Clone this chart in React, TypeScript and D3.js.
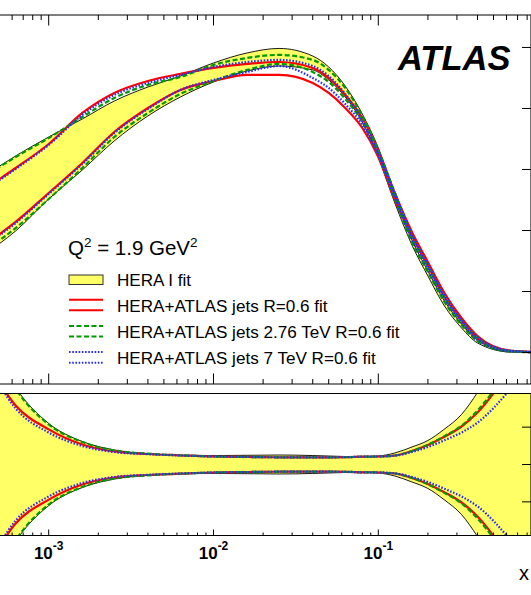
import React from "react";
import * as d3 from "d3";

// ---- data -------------------------------------------------------------
// x grid (Bjorken x)
const xGrid = [
  0.0004, 0.00063, 0.001, 0.0016, 0.0025, 0.004, 0.0063, 0.01, 0.016, 0.025,
  0.04, 0.05, 0.063, 0.08, 0.1, 0.126, 0.16, 0.2, 0.25, 0.32, 0.4, 0.63, 1.0,
];

// upper / lower edges of each uncertainty band, xg(x, Q^2 = 1.9 GeV^2)
const heraUp = [1.439, 1.611, 1.766, 1.914, 2.061, 2.176, 2.266, 2.373, 2.455, 2.492, 2.43, 2.34, 2.184, 1.955, 1.676, 1.283, 0.922, 0.668, 0.43, 0.234, 0.102, 0.008, 0.001];
const heraLo = [0.799, 0.996, 1.258, 1.496, 1.734, 1.939, 2.094, 2.217, 2.307, 2.348, 2.316, 2.234, 2.094, 1.889, 1.602, 1.225, 0.881, 0.627, 0.389, 0.201, 0.078, 0.004, 0.0];
const redUp = [1.332, 1.512, 1.709, 1.963, 2.127, 2.225, 2.283, 2.332, 2.365, 2.381, 2.332, 2.25, 2.111, 1.922, 1.66, 1.307, 0.988, 0.742, 0.496, 0.283, 0.135, 0.016, 0.002];
const redLo = [0.873, 1.07, 1.307, 1.553, 1.807, 2.004, 2.152, 2.225, 2.275, 2.275, 2.209, 2.127, 2.004, 1.84, 1.602, 1.25, 0.955, 0.709, 0.463, 0.258, 0.115, 0.012, 0.001];
const greenUp = [1.439, 1.602, 1.758, 1.93, 2.086, 2.193, 2.258, 2.357, 2.414, 2.439, 2.398, 2.316, 2.168, 1.939, 1.66, 1.307, 0.947, 0.701, 0.455, 0.258, 0.119, 0.012, 0.001];
const greenLo = [0.824, 1.02, 1.258, 1.512, 1.766, 1.963, 2.119, 2.225, 2.316, 2.365, 2.299, 2.217, 2.078, 1.889, 1.619, 1.258, 0.906, 0.66, 0.422, 0.225, 0.094, 0.008, 0.001];
const blueUp = [1.324, 1.504, 1.701, 1.947, 2.111, 2.209, 2.275, 2.34, 2.381, 2.398, 2.348, 2.266, 2.119, 1.898, 1.635, 1.307, 0.971, 0.725, 0.48, 0.275, 0.127, 0.016, 0.002];
const blueLo = [0.865, 1.061, 1.299, 1.545, 1.799, 1.996, 2.152, 2.234, 2.299, 2.348, 2.25, 2.168, 2.037, 1.865, 1.619, 1.266, 0.93, 0.684, 0.447, 0.242, 0.102, 0.011, 0.001];

// relative half-width of each band (ratio panel, symmetric about 1)
const heraRel = [0.375, 0.206, 0.11, 0.0615, 0.039, 0.029, 0.0246, 0.024, 0.0246, 0.0254, 0.024, 0.0227, 0.0214, 0.0209, 0.0227, 0.0308, 0.0468, 0.0642, 0.0937, 0.134, 0.193, 0.348, 0.535];
const redRel = [0.294, 0.158, 0.094, 0.0535, 0.0348, 0.0281, 0.0246, 0.0214, 0.0201, 0.0193, 0.0193, 0.0193, 0.0195, 0.0209, 0.0214, 0.0241, 0.0361, 0.0522, 0.0736, 0.1017, 0.139, 0.254, 0.401];
const greenRel = [0.375, 0.203, 0.107, 0.0602, 0.0375, 0.0289, 0.0246, 0.0214, 0.0201, 0.0193, 0.0193, 0.0193, 0.0195, 0.0209, 0.0214, 0.0241, 0.0361, 0.053, 0.075, 0.104, 0.1445, 0.262, 0.415];
const blueRel = [0.294, 0.15, 0.0856, 0.0495, 0.0334, 0.0276, 0.0241, 0.0214, 0.0201, 0.0193, 0.0193, 0.0193, 0.0195, 0.0209, 0.0214, 0.0235, 0.0334, 0.0468, 0.0642, 0.0856, 0.112, 0.201, 0.321];

const xMajorTicks = [0.001, 0.01, 0.1];
const xMajorExp = ["-3", "-2", "-1"];
const topYTicks = [0, 0.5, 1, 1.5, 2, 2.5];
const ratioTicks = [0.9, 1.0, 1.1];
const legendLabels = [
  "HERA I fit",
  "HERA+ATLAS jets R=0.6 fit",
  "HERA+ATLAS jets 2.76 TeV R=0.6 fit",
  "HERA+ATLAS jets 7 TeV R=0.6 fit",
];

// ---- layout ------------------------------------------------------------
const W = 531;
const H = 595;
const FRAME_R = 531;
const TOP_T = 15;
const TOP_B = 384;
const BOT_T = 393.5;
const BOT_B = 535.5;

const YELLOW = "#ffff66";
const RED = "#ff0000";
const GREEN = "#009900";
const BLUE = "#2b2bff";
const FONT = "'Liberation Sans', Arial, Helvetica, sans-serif";

const x = d3.scaleLog().domain([1e-4, 1]).range([48.7 - 164.8, 48.7 + 3 * 164.8]);
const yTop = d3.scaleLinear().domain([-0.258, 2.766]).range([TOP_B, TOP_T]);
const yBot = d3.scaleLinear().domain([0.81, 1.19]).range([BOT_B, BOT_T]);

type Pt = [number, number];
const zipPts = (ys: number[]): Pt[] => xGrid.map((xv, i) => [xv, ys[i]] as Pt);

const topLine = d3
  .line<Pt>()
  .x((d) => x(d[0]))
  .y((d) => yTop(d[1]))
  .curve(d3.curveMonotoneX);

const topArea = d3
  .area<number>()
  .x((_, i) => x(xGrid[i]))
  .y0((_, i) => yTop(heraLo[i]))
  .y1((_, i) => yTop(heraUp[i]))
  .curve(d3.curveMonotoneX);

const botLine = d3
  .line<Pt>()
  .x((d) => x(d[0]))
  .y((d) => yBot(d[1]))
  .curve(d3.curveMonotoneX);

const ratioPts = (rel: number[], sign: number): Pt[] =>
  xGrid.map((xv, i) => [xv, 1 + sign * rel[i]] as Pt);

const botArea = d3
  .area<number>()
  .x((_, i) => x(xGrid[i]))
  .y0((_, i) => yBot(1 - heraRel[i]))
  .y1((_, i) => yBot(1 + heraRel[i]))
  .curve(d3.curveMonotoneX);

// minor ticks for the log axis
const minorTicks: number[] = [];
for (let e = -4; e < 0; e++) {
  for (let k = 2; k <= 9; k++) minorTicks.push(k * Math.pow(10, e));
}

const lineStyles = [
  { color: RED, dash: undefined as string | undefined },
  { color: GREEN, dash: "5,2.5" },
  { color: BLUE, dash: "1.6,1.6" },
];

export default function App() {
  const topSeries = [
    { up: redUp, lo: redLo, ...lineStyles[0] },
    { up: greenUp, lo: greenLo, ...lineStyles[1] },
    { up: blueUp, lo: blueLo, ...lineStyles[2] },
  ];
  const botSeries = [
    { rel: redRel, ...lineStyles[0] },
    { rel: greenRel, ...lineStyles[1] },
    { rel: blueRel, ...lineStyles[2] },
  ];

  const xTicksAll = [
    ...xMajorTicks.map((v) => ({ v, major: true })),
    ...minorTicks.map((v) => ({ v, major: false })),
  ];
  const idx = xGrid.map((_, i) => i);

  return (
    <svg
      width={W}
      height={H}
      style={{ position: "absolute", left: 0, top: 0, background: "#fff" }}
      fontFamily={FONT}
    >
      <defs>
        <clipPath id="clipTop">
          <rect x={-200} y={TOP_T} width={FRAME_R + 200} height={TOP_B - TOP_T} />
        </clipPath>
        <clipPath id="clipBot">
          <rect x={-200} y={BOT_T} width={FRAME_R + 200} height={BOT_B - BOT_T} />
        </clipPath>
      </defs>

      {/* ---------- upper panel ---------- */}
      <g clipPath="url(#clipTop)">
        <path d={topArea(idx) || ""} fill={YELLOW} stroke="none" />
        <path d={topLine(zipPts(heraUp)) || ""} fill="none" stroke="#000" strokeWidth={0.9} />
        <path d={topLine(zipPts(heraLo)) || ""} fill="none" stroke="#000" strokeWidth={0.9} />
        {topSeries.map((s, k) => (
          <g key={k}>
            <path d={topLine(zipPts(s.up)) || ""} fill="none" stroke={s.color} strokeWidth={2.2} strokeDasharray={s.dash} />
            <path d={topLine(zipPts(s.lo)) || ""} fill="none" stroke={s.color} strokeWidth={2.2} strokeDasharray={s.dash} />
          </g>
        ))}
      </g>

      {/* ---------- lower (ratio) panel ---------- */}
      <g clipPath="url(#clipBot)">
        <path d={botArea(idx) || ""} fill={YELLOW} stroke="none" />
        <path d={botLine(ratioPts(heraRel, 1)) || ""} fill="none" stroke="#000" strokeWidth={0.9} />
        <path d={botLine(ratioPts(heraRel, -1)) || ""} fill="none" stroke="#000" strokeWidth={0.9} />
        {botSeries.map((s, k) => (
          <g key={k}>
            <path d={botLine(ratioPts(s.rel, 1)) || ""} fill="none" stroke={s.color} strokeWidth={2.2} strokeDasharray={s.dash} />
            <path d={botLine(ratioPts(s.rel, -1)) || ""} fill="none" stroke={s.color} strokeWidth={2.2} strokeDasharray={s.dash} />
          </g>
        ))}
      </g>

      {/* ---------- frames ---------- */}
      <g stroke="#000" strokeWidth={1.1} fill="none">
        <line x1={0} x2={FRAME_R} y1={TOP_T} y2={TOP_T} />
        <line x1={0} x2={FRAME_R} y1={TOP_B} y2={TOP_B} />
        <line x1={FRAME_R} x2={FRAME_R} y1={TOP_T} y2={TOP_B} />
        <line x1={0} x2={FRAME_R} y1={BOT_T} y2={BOT_T} />
        <line x1={0} x2={FRAME_R} y1={BOT_B} y2={BOT_B} />
        <line x1={FRAME_R} x2={FRAME_R} y1={BOT_T} y2={BOT_B} />
      </g>

      {/* x ticks */}
      <g stroke="#000" strokeWidth={1}>
        {xTicksAll.map((t, i) => {
          const px = x(t.v);
          if (px < 0 || px > FRAME_R) return null;
          const lT = t.major ? 10.5 : 5;
          const lB = t.major ? 6 : 3;
          return (
            <g key={i}>
              <line x1={px} x2={px} y1={TOP_T} y2={TOP_T + lT} />
              <line x1={px} x2={px} y1={TOP_B} y2={TOP_B - lT} />
              <line x1={px} x2={px} y1={BOT_B} y2={BOT_B - lB} />
            </g>
          );
        })}
      </g>

      {/* y ticks on the right side */}
      <g stroke="#000" strokeWidth={1}>
        {topYTicks.map((v) => (
          <line key={v} x1={FRAME_R} x2={FRAME_R - 9} y1={yTop(v)} y2={yTop(v)} />
        ))}
        {ratioTicks.map((v) => (
          <line key={v} x1={FRAME_R} x2={FRAME_R - 9} y1={yBot(v)} y2={yBot(v)} />
        ))}
      </g>

      {/* x tick labels */}
      {xMajorTicks.map((v, i) => (
        <text key={v} x={x(v)} y={559} textAnchor="middle" fontSize={17} fontWeight="bold" fill="#000">
          <tspan>10</tspan>
          <tspan dy={-9} fontSize={12}>
            {xMajorExp[i]}
          </tspan>
        </text>
      ))}
      <text x={519} y={580} fontSize={20} fill="#000">
        x
      </text>

      {/* ATLAS label */}
      <text x={398} y={70} fontSize={34.5} fontWeight="bold" fontStyle="italic" fill="#000">
        ATLAS
      </text>

      {/* Q^2 label */}
      <text x={68} y={254.5} fontSize={20.5} fill="#000">
        <tspan>Q</tspan>
        <tspan dy={-8} fontSize={13.5}>2</tspan>
        <tspan dy={8}> = 1.9 GeV</tspan>
        <tspan dy={-8} fontSize={13.5}>2</tspan>
      </text>

      {/* legend */}
      <g>
        <rect x={69} y={275} width={34} height={9.5} fill={YELLOW} stroke="#333" strokeWidth={1} />
        {lineStyles.map((s, k) => {
          const cy = 305 + k * 26.2;
          return (
            <g key={k}>
              <line x1={69} x2={103} y1={cy - 5.3} y2={cy - 5.3} stroke={s.color} strokeWidth={2} strokeDasharray={s.dash} />
              <line x1={69} x2={103} y1={cy + 5.3} y2={cy + 5.3} stroke={s.color} strokeWidth={2} strokeDasharray={s.dash} />
            </g>
          );
        })}
        {legendLabels.map((t, k) => (
          <text key={t} x={117} y={285.5 + k * 26} fontSize={17.1} fill="#000">
            {t}
          </text>
        ))}
      </g>
    </svg>
  );
}
